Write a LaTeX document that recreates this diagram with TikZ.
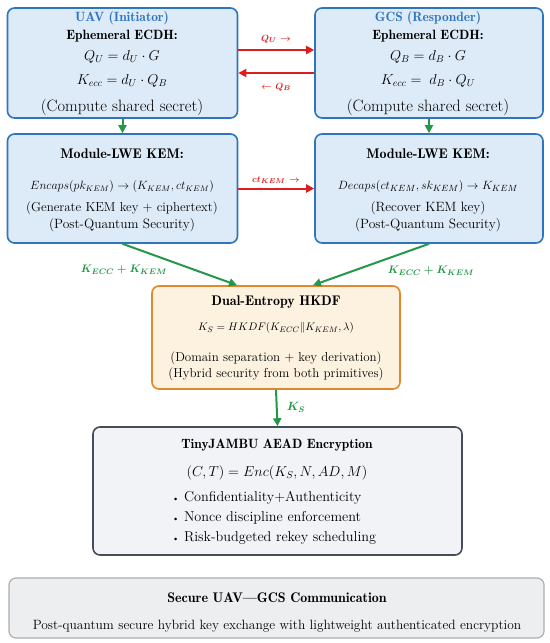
\documentclass[tikz,border=0pt]{standalone}
\usepackage{amsmath,bm}
\usepackage{fontspec}
\newfontfamily\demifont{lmromandemi10-regular.otf}
\usetikzlibrary{arrows.meta,calc}
\definecolor{bfill}{RGB}{221,234,247}
\definecolor{bdraw}{RGB}{46,117,190}
\definecolor{btext}{RGB}{47,117,193}
\definecolor{ofill}{RGB}{253,242,224}
\definecolor{odraw}{RGB}{227,135,45}
\definecolor{gfill}{RGB}{241,243,246}
\definecolor{gdraw}{RGB}{70,76,90}
\definecolor{lfill}{RGB}{236,238,239}
\definecolor{ldraw}{RGB}{172,174,177}
\definecolor{grn}{RGB}{34,152,72}
\definecolor{rd}{RGB}{222,30,30}
\tikzset{
  box/.style={draw, line width=1.6bp, rounded corners=7bp, inner sep=0pt},
  bluebox/.style={box, draw=bdraw, fill=bfill},
  orangebox/.style={box, draw=odraw, fill=ofill},
  graybox/.style={box, draw=gdraw, fill=gfill},
  lightbox/.style={box, draw=ldraw, fill=lfill, line width=1.2bp},
  txt/.style={inner sep=0pt, anchor=center},
  redarrow/.style={draw=rd, line width=2bp, -{Triangle[length=8bp,width=8bp]}},
  greenarrow/.style={draw=grn, line width=2bp, -{Triangle[length=8bp,width=8bp]}},
  redlabel/.style={txt, text=rd, font=\fontsize{9.5}{12}\selectfont\bfseries\boldmath},
  greenlabel/.style={txt, text=grn, font=\fontsize{11}{13}\selectfont\bfseries\boldmath},
}
\begin{document}
\begin{tikzpicture}[x=1bp,y=-1bp]
\useasboundingbox (0,0) rectangle (550,643);
% boxes
\node[bluebox, minimum width=230bp, minimum height=110bp] (uav) at (122.5,63) {};
\node[bluebox, minimum width=228bp, minimum height=110bp] (gcs) at (429,63) {};
\node[bluebox, minimum width=230bp, minimum height=109bp] (kemL) at (122.5,188.5) {};
\node[bluebox, minimum width=228bp, minimum height=109bp] (kemR) at (429,188.5) {};
\node[orangebox, minimum width=248bp, minimum height=103bp] (hkdf) at (276,337.5) {};
\node[graybox, minimum width=369bp, minimum height=128bp] (aead) at (277.5,491) {};
\node[lightbox, minimum width=535bp, minimum height=60bp] (bot) at (276.5,608) {};

% UAV / GCS text
\begin{scope}[every node/.style={txt, font=\fontsize{16.5}{18}\selectfont}]
\node[text=btext, font=\fontsize{13.5}{15}\demifont] (uavT) at (122,18) {UAV (Initiator)};
\node[font=\fontsize{13.5}{15}\demifont] (uavH) at (122,36) {Ephemeral ECDH:};
\node[font=\fontsize{14.5}{17}\selectfont] (uavQ) at (122,57) {$Q_U = d_U \cdot G$};
\node[font=\fontsize{14}{17}\selectfont] (uavK) at (122,81) {$K_{ecc} = d_U \cdot Q_B$};
\node (uavC) at (122,107) {(Compute shared secret)};
\node[text=btext, font=\fontsize{13.5}{15}\demifont] (gcsT) at (428,18) {GCS (Responder)};
\node[font=\fontsize{13.5}{15}\demifont] (gcsH) at (428,36) {Ephemeral ECDH:};
\node[font=\fontsize{14.5}{17}\selectfont] (gcsQ) at (428,57) {$Q_B = d_B \cdot G$};
\node[font=\fontsize{14}{17}\selectfont] (gcsK) at (428,81) {$K_{ecc} = \; d_B \cdot Q_U$};
\node (gcsC) at (428,107) {(Compute shared secret)};
\end{scope}

% KEM text
\begin{scope}[every node/.style={txt, font=\fontsize{13.5}{15}\selectfont}]
\node[font=\fontsize{14}{16}\demifont] (kLH) at (122,154) {Module-LWE KEM:};
\node[font=\fontsize{12}{14}\selectfont] (kLF) at (122,187) {$Encaps(pk_{KEM}) \rightarrow (K_{KEM}, ct_{KEM})$};
\node[font=\fontsize{13}{15}\selectfont] (kL1) at (122,208) {(Generate KEM key + ciphertext)};
\node (kL2) at (122,225) {(Post-Quantum Security)};
\node[font=\fontsize{14}{16}\demifont] (kRH) at (428,154) {Module-LWE KEM:};
\node[font=\fontsize{12.3}{14}\selectfont] (kRF) at (428,187) {$Decaps(ct_{KEM}, sk_{KEM}) \rightarrow K_{KEM}$};
\node (kR1) at (428,208) {(Recover KEM key)};
\node (kR2) at (428,225) {(Post-Quantum Security)};
\end{scope}

% HKDF text
\begin{scope}[every node/.style={txt, font=\fontsize{13}{15}\selectfont}]
\node[font=\fontsize{14}{16}\demifont] (hH) at (276,302) {Dual-Entropy HKDF};
\node[font=\fontsize{11}{14}\selectfont] (hF) at (276,328) {$K_S = HKDF(K_{ECC} \| K_{KEM}, \lambda)$};
\node (h1) at (276,358) {(Domain separation + key derivation)};
\node (h2) at (276,374) {(Hybrid security from both primitives)};
\end{scope}

% AEAD text
\node[txt, font=\fontsize{13.5}{16}\demifont] (aH) at (277,445) {TinyJAMBU AEAD Encryption};
\node[txt, font=\fontsize{14.8}{18}\selectfont] (aF) at (277,473) {$(C,T) = Enc(K_S, N, AD, M)$};
\begin{scope}[every node/.style={inner sep=0pt, anchor=west, font=\fontsize{14.3}{16}\selectfont}]
\node (a1) at (172,498) {{\fontsize{9}{10}\selectfont\textbullet}\ Confidentiality+Authenticity};
\node (a2) at (172,518) {{\fontsize{9}{10}\selectfont\textbullet}\ Nonce discipline enforcement};
\node (a3) at (172,538) {{\fontsize{9}{10}\selectfont\textbullet}\ Risk-budgeted rekey scheduling};
\end{scope}

% bottom text
\node[txt, font=\fontsize{14}{16}\demifont] (bT) at (277,598) {Secure UAV—GCS Communication};
\node[txt, font=\fontsize{13.5}{15}\selectfont] (bS) at (277,626) {Post-quantum secure hybrid key exchange with lightweight authenticated encryption};

% red arrows
\draw[redarrow] ($(uav.east)+(0,-13)$) -- ($(gcs.west)+(0,-13)$);
\draw[redarrow] ($(gcs.west)+(0,10)$) -- ($(uav.east)+(0,10)$);
\draw[redarrow] (kemL.east) -- (kemR.west);
\node[redlabel] (lQU) at (276,39) {$Q_U$ $\rightarrow$};
\node[redlabel] (lQB) at (276,87) {$\leftarrow$ $Q_B$};
\node[redlabel] (lct) at (276,180) {$ct_{KEM}$ $\rightarrow$};

% green arrows
\draw[greenarrow] (uav.south) -- (kemL.north);
\draw[greenarrow] (gcs.south) -- (kemR.north);
\draw[greenarrow] (kemL.south) -- ($(hkdf.north)+(-39,0)$);
\draw[greenarrow] (kemR.south) -- ($(hkdf.north)+(37,0)$);
\draw[greenarrow] (hkdf.south) -- (aead.north);
\node[greenlabel] (lL) at (124,270) {$K_{ECC} + K_{KEM}$};
\node[greenlabel] (lR) at (431,271) {$K_{ECC} + K_{KEM}$};
\node[greenlabel, font=\fontsize{11.5}{13}\selectfont\bfseries\boldmath] (lKS) at (296,407) {$K_S$};
\end{tikzpicture}
\end{document}
